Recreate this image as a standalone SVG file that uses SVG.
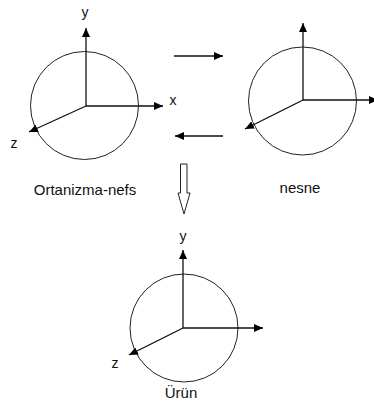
<svg xmlns="http://www.w3.org/2000/svg" width="374" height="403" viewBox="0 0 374 403">
<style>
.circ{fill:none;stroke:#222;stroke-width:1}
.ax{fill:none;stroke:#111;stroke-width:1.3;marker-end:url(#ah)}
.t{font-family:"Liberation Sans",Arial,sans-serif;font-size:15px;fill:#111}
.l{font-family:"Liberation Sans",Arial,sans-serif;font-size:14px;fill:#111}
</style>
<defs>
<marker id="ah" markerUnits="userSpaceOnUse" markerWidth="10" markerHeight="10" viewBox="0 0 10 10" refX="9" refY="5" orient="auto">
<path d="M0,1 L9,5 L0,9 Z" fill="#000"/>
</marker>
</defs>
<rect width="374" height="403" fill="#fff"/>
<g id="ortanizma">
<circle class="circ" cx="84.5" cy="105.5" r="54"/>
<line class="ax" x1="86" y1="106" x2="86" y2="28"/>
<line class="ax" x1="86" y1="106" x2="163" y2="106"/>
<line class="ax" x1="86" y1="106" x2="29" y2="132"/>
<text class="l" x="85" y="17" text-anchor="middle">y</text>
<text class="l" x="173" y="105" text-anchor="middle">x</text>
<text class="l" x="14" y="148" text-anchor="middle">z</text>
<text class="t" x="85" y="195" text-anchor="middle">Ortanizma-nefs</text>
</g>
<g id="nesne">
<circle class="circ" cx="302.5" cy="101" r="54"/>
<line class="ax" x1="303" y1="100" x2="303" y2="23"/>
<line class="ax" x1="303" y1="100" x2="378" y2="100"/>
<line class="ax" x1="303" y1="100" x2="245" y2="129"/>
<text class="t" x="300" y="193" text-anchor="middle">nesne</text>
</g>
<g id="urun">
<circle class="circ" cx="184" cy="328" r="54"/>
<line class="ax" x1="183" y1="328" x2="183" y2="250"/>
<line class="ax" x1="183" y1="328" x2="263" y2="328"/>
<line class="ax" x1="183" y1="328" x2="129" y2="355"/>
<text class="l" x="183" y="241" text-anchor="middle">y</text>
<text class="l" x="115" y="368" text-anchor="middle">z</text>
<text class="t" x="181" y="398" text-anchor="middle">Ürün</text>
</g>
<g id="connectors">
<line class="ax" x1="174" y1="56" x2="223" y2="56"/>
<line class="ax" x1="223" y1="136" x2="175" y2="136"/>
<path d="M180.5,164 L187,164 L187,193 L190,193 L184,214 L178,193 L180.5,193 Z" fill="#fff" stroke="#222" stroke-width="1"/>
</g>
</svg>
